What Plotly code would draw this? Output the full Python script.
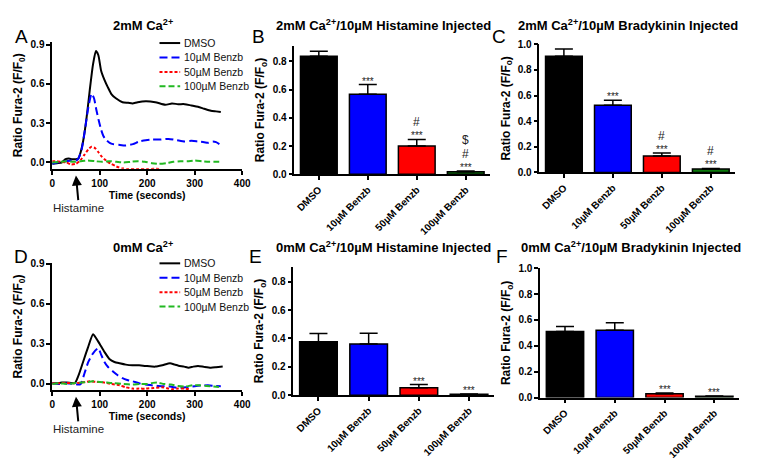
import plotly.graph_objects as go

W, H = 762, 475
FONT = "Liberation Sans, Arial, sans-serif"

# ---------------- DATA ----------------
trace_names = ["DMSO", "10µM Benzb", "50µM Benzb", "100µM Benzb"]
trace_colors = ["#000000", "#0000FF", "#FF0000", "#22B822"]
trace_dashes = ["solid", "8px,4px", "3px,2px", "6px,3px"]
injection_time = 50

# Panel A (2mM Ca2+) time courses
tA_dmso = [0, 10, 20, 28, 35, 42, 50, 55, 60, 65, 72, 79, 86, 92, 97, 103, 110, 117, 125, 134, 148,
           160, 169, 180, 197, 217, 238, 252, 265, 279, 293, 307, 320, 334, 345, 355]
vA_dmso = [-0.01, -0.005, 0.0, 0.025, 0.03, 0.025, 0.025, 0.03, 0.08, 0.16, 0.33, 0.55, 0.75, 0.85, 0.82,
           0.70, 0.63, 0.575, 0.52, 0.49, 0.46, 0.455, 0.45, 0.46, 0.467, 0.46, 0.44, 0.45, 0.445,
           0.445, 0.435, 0.425, 0.41, 0.395, 0.39, 0.385]
tA_10 = [0, 10, 20, 30, 40, 50, 55, 62, 69, 76, 83, 88, 93, 98, 103, 108, 114, 121, 128, 140, 155,
         170, 183, 197, 210, 225, 245, 262, 279, 293, 307, 320, 328, 338, 345, 352]
vA_10 = [-0.01, 0.0, 0.005, 0.01, 0.015, 0.015, 0.03, 0.1, 0.25, 0.42, 0.525, 0.49, 0.40, 0.32, 0.25,
         0.2, 0.17, 0.15, 0.14, 0.135, 0.13, 0.14, 0.16, 0.17, 0.175, 0.175, 0.18, 0.17, 0.16, 0.165,
         0.16, 0.155, 0.15, 0.16, 0.155, 0.14]
tA_50 = [0, 10, 20, 30, 40, 50, 60, 68, 76, 83, 90, 97, 103, 110, 117, 124, 135, 148, 160, 180, 200, 215, 225]
vA_50 = [0.01, 0.01, 0.005, 0.0, -0.015, -0.01, 0.02, 0.06, 0.1, 0.12, 0.11, 0.08, 0.05, 0.025, 0.005,
         -0.01, -0.03, -0.045, -0.05, -0.05, -0.05, -0.048, -0.05]
tA_100 = [0, 15, 30, 45, 60, 75, 90, 105, 120, 135, 150, 165, 180, 195, 210, 225, 240, 255, 270, 285,
          300, 315, 330, 345, 355]
vA_100 = [0.0, 0.005, 0.01, 0.005, 0.01, 0.015, 0.01, 0.005, 0.01, 0.005, 0.0, 0.005, 0.01, 0.005,
          -0.005, -0.01, -0.005, 0.005, 0.01, 0.01, 0.015, 0.01, 0.005, 0.005, 0.005]

# Panel D (0mM Ca2+) time courses
tD_dmso = [0, 10, 20, 30, 40, 48, 55, 65, 75, 86, 93, 100, 110, 121, 131, 142, 155, 169, 183, 197, 217,
           232, 248, 258, 266, 278, 287, 297, 307, 320, 334, 345, 359]
vD_dmso = [0.005, 0.005, 0.01, 0.01, 0.008, 0.007, 0.06, 0.165, 0.27, 0.373, 0.34, 0.30, 0.24, 0.185,
           0.165, 0.155, 0.145, 0.14, 0.14, 0.135, 0.13, 0.14, 0.155, 0.145, 0.137, 0.13, 0.122, 0.13,
           0.135, 0.128, 0.122, 0.125, 0.13]
tD_10 = [0, 15, 30, 45, 55, 60, 68, 76, 86, 97, 103, 110, 118, 128, 138, 148, 158, 169, 183, 197, 214,
         231, 248, 266, 283, 300, 314, 328, 342, 355]
vD_10 = [0.005, 0.0, 0.005, 0.0, -0.005, 0.0, 0.08, 0.165, 0.23, 0.268, 0.22, 0.165, 0.125, 0.093,
         0.065, 0.044, 0.03, 0.02, 0.005, -0.005, -0.012, -0.017, -0.02, -0.03, -0.025, -0.017,
         -0.012, -0.01, -0.015, -0.017]
tD_50 = [0, 15, 30, 45, 60, 70, 79, 93, 107, 124, 142, 155, 169, 183, 197, 214, 231, 245, 252, 265, 279, 290]
vD_50 = [0.005, 0.005, 0.008, 0.005, 0.01, 0.015, 0.02, 0.015, 0.012, 0.0, -0.01, -0.025, -0.035,
         -0.035, -0.035, -0.03, -0.025, -0.035, -0.04, -0.035, -0.035, -0.04]
tD_100 = [0, 15, 30, 45, 60, 75, 85, 100, 115, 130, 150, 170, 185, 200, 212, 222, 235, 250, 265, 280,
          295, 310, 325, 340, 355]
vD_100 = [0.0, 0.005, 0.0, 0.005, 0.01, 0.015, 0.02, 0.015, 0.01, 0.005, 0.0, -0.005, 0.0, 0.0, 0.008,
          0.01, 0.0, -0.005, -0.015, -0.02, -0.01, -0.01, -0.015, -0.02, -0.025]

# Bar panels
categories = ["DMSO", "10µM Benzb", "50µM Benzb", "100µM Benzb"]
bar_colors = ["#000000", "#0000FF", "#FF0000", "#0B7A0B"]

B_mean = [0.835, 0.567, 0.20, 0.019]
B_sem = [0.035, 0.068, 0.047, 0.004]
B_sig = [[], ["***"], ["***", "#"], ["***", "#", "$"]]

C_mean = [0.906, 0.525, 0.127, 0.027]
C_sem = [0.058, 0.038, 0.025, 0.004]
C_sig = [[], ["***"], ["***", "#"], ["***", "#"]]

E_mean = [0.377, 0.361, 0.052, 0.007]
E_sem = [0.057, 0.075, 0.023, 0.002]
E_sig = [[], [], ["***"], ["***"]]

F_mean = [0.51, 0.52, 0.03, 0.01]
F_sem = [0.04, 0.058, 0.006, 0.002]
F_sig = [[], [], ["***"], ["***"]]

time_ticks = [0, 100, 200, 300, 400]

# ---------------- FIGURE ----------------
fig = go.Figure()

def px_x(x):
    return x / W

def px_y(y):
    return 1 - y / H

lines_A = [(tA_dmso, vA_dmso), (tA_10, vA_10), (tA_50, vA_50), (tA_100, vA_100)]
lines_D = [(tD_dmso, vD_dmso), (tD_10, vD_10), (tD_50, vD_50), (tD_100, vD_100)]

for (ax_x, ax_y), series in [(("x", "y"), lines_A), (("x4", "y4"), lines_D)]:
    for i, (t, v) in enumerate(series):
        fig.add_trace(go.Scatter(
            x=t, y=v, mode="lines", name=trace_names[i], showlegend=False,
            line=dict(color=trace_colors[i], width=2, dash=trace_dashes[i], shape="spline", smoothing=0.6),
            xaxis=ax_x, yaxis=ax_y))

sig_style = {"***": (10, -3), "#": (12, 9), "$": (12, 23)}

bar_sets = [("x2", "y2", B_mean, B_sem, B_sig), ("x3", "y3", C_mean, C_sem, C_sig),
            ("x5", "y5", E_mean, E_sem, E_sig), ("x6", "y6", F_mean, F_sem, F_sig)]
annotations = []
for ax_x, ax_y, mean, sem, sig in bar_sets:
    fig.add_trace(go.Bar(
        x=categories, y=mean, width=0.75, showlegend=False,
        marker=dict(color=bar_colors, line=dict(color="black", width=1.5)),
        error_y=dict(type="data", array=sem, arrayminus=[0] * len(sem), symmetric=False,
                     color="black", thickness=1.5, width=9),
        xaxis=ax_x, yaxis=ax_y))
    for i, labels in enumerate(sig):
        for lab in labels:
            size, shift = sig_style[lab]
            annotations.append(dict(
                x=categories[i], y=mean[i] + sem[i], xref=ax_x, yref=ax_y,
                text=lab, showarrow=False, yanchor="bottom", yshift=shift, borderpad=0,
                font=dict(family=FONT, size=size, color="#222")))

axis_common = dict(showline=True, linecolor="black", linewidth=1.5, ticks="outside", ticklen=4,
                   tickwidth=1.5, tickcolor="black", showgrid=False, zeroline=False,
                   tickfont=dict(family=FONT, size=10, color="black", weight="bold"))
ytitle_font = dict(family=FONT, size=12, color="black", weight="bold")

# Panel geometry (pixel coordinates)
geo = {
    "": dict(x=(50, 243), y=(167, 36.7), yr=(-0.048, 0.921)),
    "2": dict(x=(296, 495), y=(172.7, 40.7), yr=(0, 0.91)),
    "3": dict(x=(545, 744), y=(170.7, 39.3), yr=(0, 1.0)),
    "4": dict(x=(50, 243), y=(394.3, 263.3), yr=(-0.048, 0.91)),
    "5": dict(x=(295, 499), y=(399.3, 267.3), yr=(0, 0.906)),
    "6": dict(x=(545.7, 748), y=(401.7, 269), yr=(0, 1.0)),
}
y_ticks = {
    "": [0.0, 0.3, 0.6, 0.9], "2": [0.0, 0.2, 0.4, 0.6, 0.8], "3": [0.0, 0.2, 0.4, 0.6, 0.8, 1.0],
    "4": [0.0, 0.3, 0.6, 0.9], "5": [0.0, 0.2, 0.4, 0.6, 0.8], "6": [0.0, 0.2, 0.4, 0.6, 0.8, 1.0],
}
layout = {}
for k, g in geo.items():
    xa = dict(axis_common)
    ya = dict(axis_common)
    xa.update(domain=[px_x(g["x"][0]), px_x(g["x"][1])], anchor="y" + k)
    ya.update(domain=[px_y(g["y"][0]), px_y(g["y"][1])], anchor="x" + k, range=list(g["yr"]),
              tickvals=y_ticks[k], ticktext=["%.1f" % v for v in y_ticks[k]])
    if k in ("", "4"):
        xa.update(range=[0, 400], tickvals=time_ticks,
                  title=dict(text="Time (seconds)", font=dict(family=FONT, size=10.5, color="black", weight="bold"),
                             standoff=2))
        ya.update(title=dict(text="Ratio Fura-2 (F/F<sub>0</sub>)", font=ytitle_font, standoff=5))
    else:
        xa.update(type="category", range=[-0.5, 3.5], tickangle=-45)
        ya.update(title=dict(text="Ratio Fura-2 (F/F<sub>o</sub>)", font=ytitle_font, standoff=5))
    layout["xaxis" + k] = xa
    layout["yaxis" + k] = ya

# Panel titles and letters
titles = [
    ("2mM Ca<sup>2+</sup>", 142, 20),
    ("2mM Ca<sup>2+</sup>/10µM Histamine Injected", 387, 20),
    ("2mM Ca<sup>2+</sup>/10µM Bradykinin Injected", 635, 20),
    ("0mM Ca<sup>2+</sup>", 142, 247),
    ("0mM Ca<sup>2+</sup>/10µM Histamine Injected", 387, 247),
    ("0mM Ca<sup>2+</sup>/10µM Bradykinin Injected", 638, 247),
]
for text, cx, cy in titles:
    annotations.append(dict(x=px_x(cx), y=px_y(cy), xref="paper", yref="paper", text=text,
                            showarrow=False, xanchor="center", yanchor="middle",
                            font=dict(family=FONT, size=13, color="black", weight="bold")))
letters = [("A", 19, 31), ("B", 260, 31), ("C", 504, 31), ("D", 18, 257), ("E", 257, 257), ("F", 507, 257)]
for text, cx, cy in letters:
    annotations.append(dict(x=px_x(cx), y=px_y(cy), xref="paper", yref="paper", text=text,
                            showarrow=False, xanchor="center", yanchor="middle",
                            font=dict(family=FONT, size=19, color="black")))

# Histamine arrows
for xr, tip in [("x", 174), ("x4", 401)]:
    annotations.append(dict(x=injection_time, xref=xr, y=px_y(tip), yref="paper", text="Histamine",
                            showarrow=True, arrowhead=2, arrowsize=1, arrowwidth=2, arrowcolor="black",
                            ax=3, ay=32, font=dict(family=FONT, size=11.5, color="#222")))

# Manual legends (line samples + labels)
shapes = []
for top in (38, 264):
    for i, name in enumerate(trace_names):
        yy = px_y(top + i * 14.8)
        shapes.append(dict(type="line", xref="paper", yref="paper", x0=px_x(159), x1=px_x(180), y0=yy, y1=yy,
                           line=dict(color=trace_colors[i], width=2, dash=trace_dashes[i])))
        annotations.append(dict(x=px_x(182), y=yy, xref="paper", yref="paper", text=name, showarrow=False,
                                xanchor="left", yanchor="middle",
                                font=dict(family=FONT, size=10.5, color="#111")))

fig.update_layout(
    width=W, height=H, margin=dict(l=0, r=0, t=0, b=0),
    paper_bgcolor="white", plot_bgcolor="white",
    showlegend=False, bargap=0.25,
    font=dict(family=FONT, color="black"),
    annotations=annotations, shapes=shapes,
    **layout)

fig.write_html("out.html", config={"displayModeBar": False},
               post_script="document.body.style.margin='0';")
